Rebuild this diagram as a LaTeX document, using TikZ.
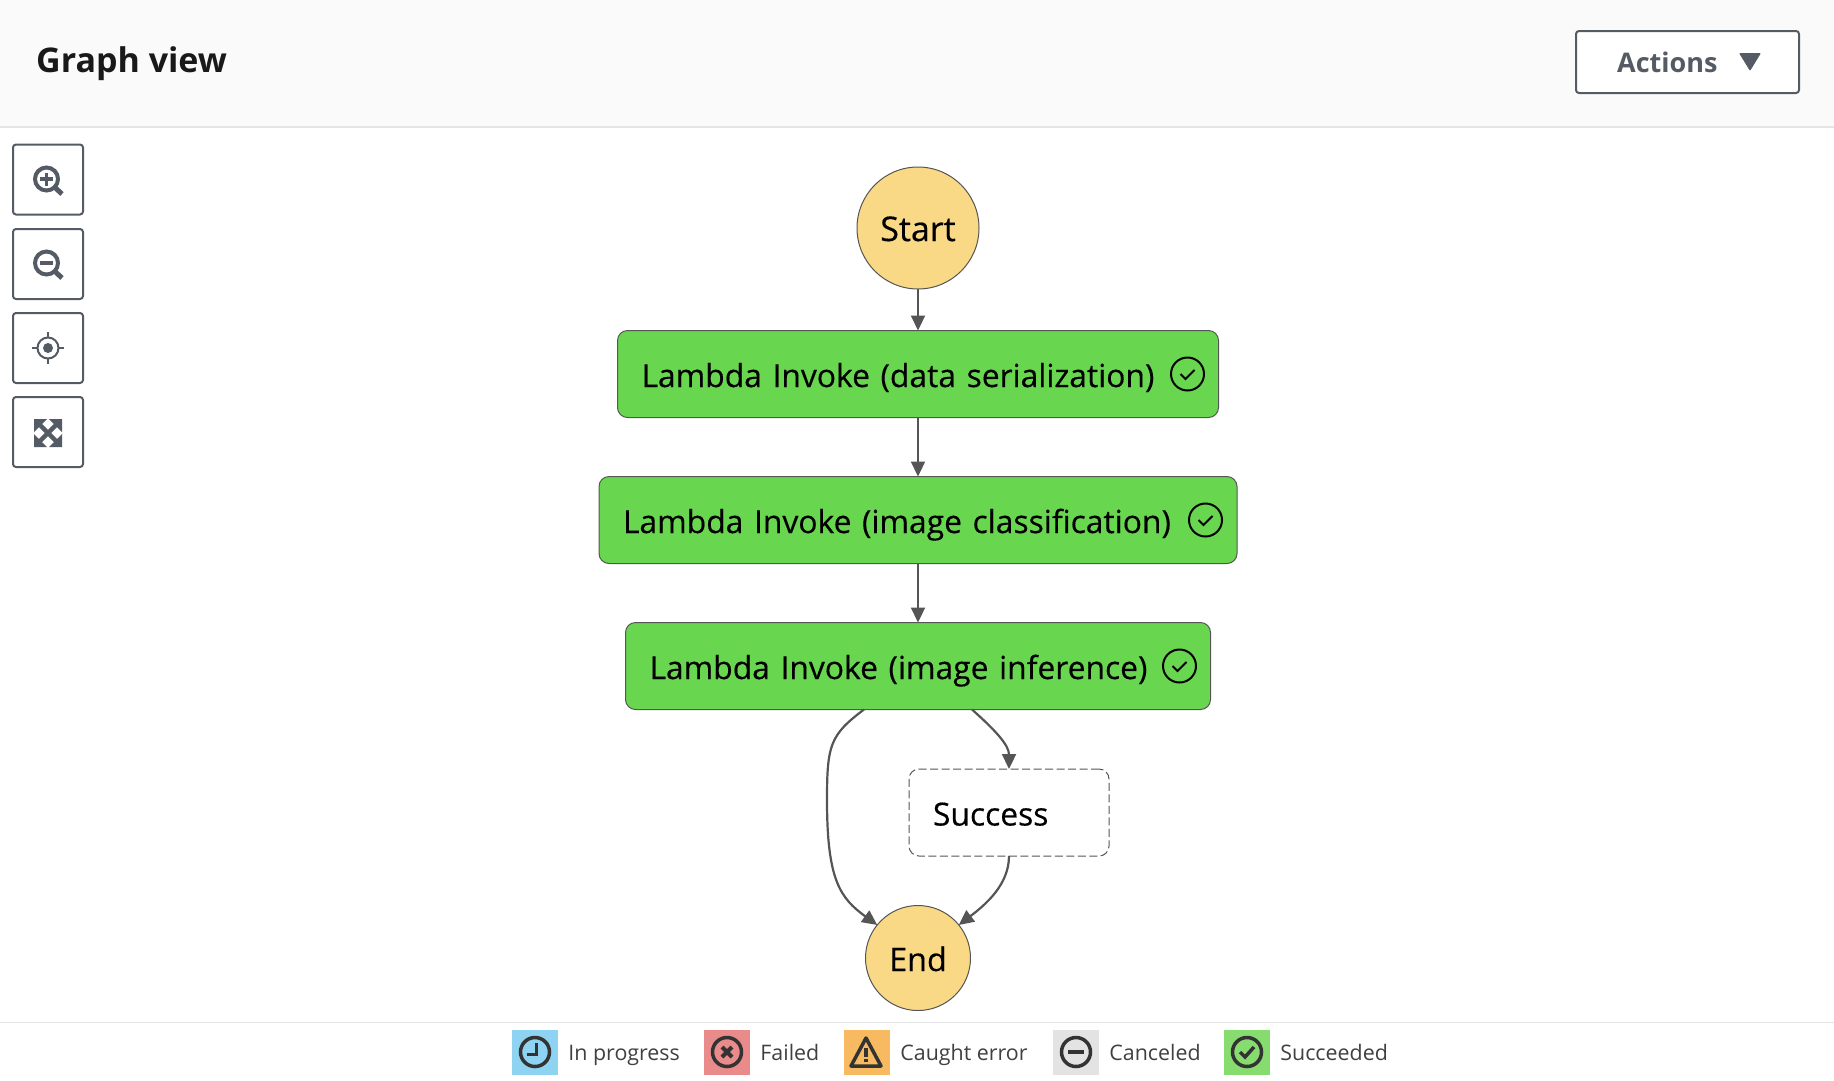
\documentclass[tikz,border=0pt]{standalone}
\usepackage{fontspec}
\setmainfont{Open Sans}
\newfontfamily\labelfont[FakeBold=0.35,WordSpace=0.8]{Open Sans}
\usepackage{xcolor}
\usetikzlibrary{positioning,arrows.meta,calc}
\definecolor{uigray}{HTML}{545B64}
\definecolor{edgegray}{HTML}{555555}
\definecolor{okgreen}{HTML}{69D64F}
\definecolor{termyellow}{HTML}{F9D985}
\definecolor{legblue}{HTML}{8FD3F2}
\definecolor{legred}{HTML}{E98B8B}
\definecolor{legorange}{HTML}{F7BA60}
\definecolor{leggreen}{HTML}{86DC6F}
\tikzset{
  stateblk/.style ={draw=edgegray, rectangle, rounded corners=10pt, fill=okgreen, line width=1pt, minimum height=87pt, inner sep=0pt, outer sep=0pt, align=left, text height=30pt, text depth=4pt, font=\labelfont\fontsize{31.8}{38}\selectfont},
  passblk/.style  ={draw=edgegray, rectangle, rounded corners=10pt, fill=white, line width=1pt, dash pattern=on 8pt off 3.5pt, minimum height=87pt, inner sep=0pt, outer sep=0pt, align=left, text height=30pt, text depth=4pt, font=\labelfont\fontsize{31.8}{38}\selectfont},
  term/.style     ={draw=edgegray, circle, fill=termyellow, line width=1pt, inner sep=0pt, outer sep=0pt, text height=30pt, text depth=4pt, font=\labelfont\fontsize{32.3}{38}\selectfont},
  okcirc/.style   ={draw=black, circle, line width=2pt, minimum size=33pt, inner sep=0pt},
  toolbtn/.style  ={draw=uigray, rectangle, rounded corners=3pt, fill=white, line width=2pt, minimum width=70pt, minimum height=70pt, inner sep=0pt},
  swatch/.style   ={rectangle, minimum width=46pt, minimum height=45pt, inner sep=0pt},
  legtxt/.style   ={right=10pt of #1, inner sep=0pt, text height=20pt, text depth=3pt, text=black!75, font=\fontsize{21.4}{26}\selectfont},
  legcirc/.style  ={draw=black!80, circle, line width=3.5pt, minimum size=29pt, inner sep=0pt},
  arr/.style      ={-{Triangle[length=15pt, width=14pt]}, edgegray, line width=2.2pt},
  icon/.style     ={draw=uigray, line width=3.5pt},
}
\begin{document}
\begin{tikzpicture}[x=1pt, y=-1pt]
  \useasboundingbox (0,0) rectangle (1834,1080);
  \fill[black!2] (0,0) rectangle (1834,127);
  \draw[black!10, line width=1.5pt] (0,127) -- (1834,127);
  \draw[black!10, line width=1.5pt] (0,1022.5) -- (1834,1022.5);
  \node[anchor=base west, inner sep=0pt, font=\fontsize{34}{38}\selectfont\bfseries, text=black!90] (title) at (36,72) {Graph view};

  \node[draw=uigray, rectangle, rounded corners=3pt, fill=white, line width=2pt, minimum width=223pt, minimum height=62pt, inner sep=0pt] (actions) at (1687.5,62) {};
  \node[anchor=base west, inner sep=0pt, text=uigray, font=\fontsize{27}{32}\selectfont\bfseries] (actionstxt) at (1617,72) {Actions};
  \fill[uigray, rounded corners=1pt] (1739,53) -- (1761,53) -- (1750,71) -- cycle;

  \node[toolbtn] (zoomin) at (48,179.5) {};
  \node[toolbtn] (zoomout) at (48,264) {};
  \node[toolbtn] (center) at (48,348) {};
  \node[toolbtn] (fitall) at (48,432) {};

  \draw[icon, line width=4pt] (46.5,179) circle (11.5);
  \draw[icon, line width=5pt] (55,187.5) -- (62,194);
  \draw[icon, line width=3.5pt] (40,179) -- (53,179) (46.5,172.5) -- (46.5,185.5);
  \draw[icon, line width=4pt] (46.5,263) circle (11.5);
  \draw[icon, line width=5pt] (55,271.5) -- (62,278);
  \draw[icon, line width=3.5pt] (40,263) -- (53,263);
  \draw[icon, line width=2pt] (48,348) circle (10.5);
  \fill[uigray] (48,348) circle (5);
  \draw[icon, line width=2pt] (32,348) -- (37.5,348) (58.5,348) -- (64,348) (48,332) -- (48,337.5) (48,358.5) -- (48,364);
  \fill[uigray] (34,419) -- (47,419) -- (34,432) -- cycle (62,419) -- (49,419) -- (62,432) -- cycle
                (34,447) -- (47,447) -- (34,434) -- cycle (62,447) -- (49,447) -- (62,434) -- cycle;
  \draw[icon, line width=4.5pt] (37,422) -- (59,444) (59,422) -- (37,444);

  \node[term, minimum size=122pt, font=\labelfont\fontsize{34}{38}\selectfont] (start) at (918,228) {Start};
  \node[stateblk, minimum width=601pt, text width=553pt] (serial) at (918,374) {Lambda Invoke (data serialization)};
  \node[stateblk, minimum width=638pt, text width=590pt] (classif) at (918,520) {Lambda Invoke (image classification)};
  \node[stateblk, minimum width=585pt, text width=537pt] (infer) at (918,666) {Lambda Invoke (image inference)};
  \node[passblk, minimum width=200pt, text width=152pt] (success) at (1009,812.5) {Success};
  \node[term, minimum size=105pt] (finish) at (918,958) {End};

  \node[okcirc] (oka) at (1187.5,374) {};
  \node[okcirc] (okb) at (1205.5,520) {};
  \node[okcirc] (okc) at (1179.5,666) {};
  \foreach \n in {oka,okb,okc}
    \draw[black, line width=2pt] ([shift={(-7,0)}]\n.center) -- ([shift={(-2,5)}]\n.center) -- ([shift={(7,-4)}]\n.center);

  \draw[arr] (start) -- (serial);
  \draw[arr] (serial) -- (classif);
  \draw[arr] (classif) -- (infer);
  \draw[arr] ([xshift=54pt]infer.south) .. controls (995,730) and (1009,745) .. (success.north);
  \draw[arr] (success.south) .. controls (1009,885) and (985,905) .. (finish.39);
  \draw[arr] ([xshift=-54pt]infer.south) .. controls (830,735) and (827,745) .. (827,800) .. controls (827,880) and (840,898) .. (finish.141);

  \node[swatch, fill=legblue] (sprog) at (535,1052) {};
  \node[swatch, fill=legred] (sfail) at (727,1052) {};
  \node[swatch, fill=legorange] (scatch) at (867,1052) {};
  \node[swatch, fill=black!11] (scancel) at (1076,1052) {};
  \node[swatch, fill=leggreen] (ssucc) at (1247,1052) {};

  \node[legtxt=sprog] (tprog) {In progress};
  \node[legtxt=sfail] (tfail) {Failed};
  \node[legtxt=scatch] (tcatch) {Caught error};
  \node[legtxt=scancel] (tcancel) {Canceled};
  \node[legtxt=ssucc] (tsucc) {Succeeded};

  \node[legcirc] (cprog) at (sprog) {};
  \node[legcirc] (cfail) at (sfail) {};
  \node[legcirc] (ccancel) at (scancel) {};
  \node[legcirc] (csucc) at (ssucc) {};
  \draw[black!80, line width=3pt] ([shift={(1,-9)}]cprog.center) -- ([shift={(1,2)}]cprog.center) -- ([shift={(-8,2)}]cprog.center);
  \draw[black!80, line width=4pt] ([shift={(-5,-5)}]cfail.center) -- ([shift={(5,5)}]cfail.center) ([shift={(-5,5)}]cfail.center) -- ([shift={(5,-5)}]cfail.center);
  \draw[black!80, line width=4pt] ([xshift=-8pt]ccancel.center) -- ([xshift=8pt]ccancel.center);
  \draw[black!80, line width=3.5pt] ([shift={(-7,0)}]csucc.center) -- ([shift={(-2,5)}]csucc.center) -- ([shift={(7,-5)}]csucc.center);
  \draw[black!80, line width=3.5pt, line join=round] ([shift={(-1,-14)}]scatch.center) -- ([shift={(14,14)}]scatch.center) -- ([shift={(-16,14)}]scatch.center) -- cycle;
  \draw[black!80, line width=3.5pt] ([shift={(-1,-4)}]scatch.center) -- ([shift={(-1,5)}]scatch.center) ([shift={(-1,7)}]scatch.center) -- ([shift={(-1,10)}]scatch.center);
\end{tikzpicture}
\end{document}
